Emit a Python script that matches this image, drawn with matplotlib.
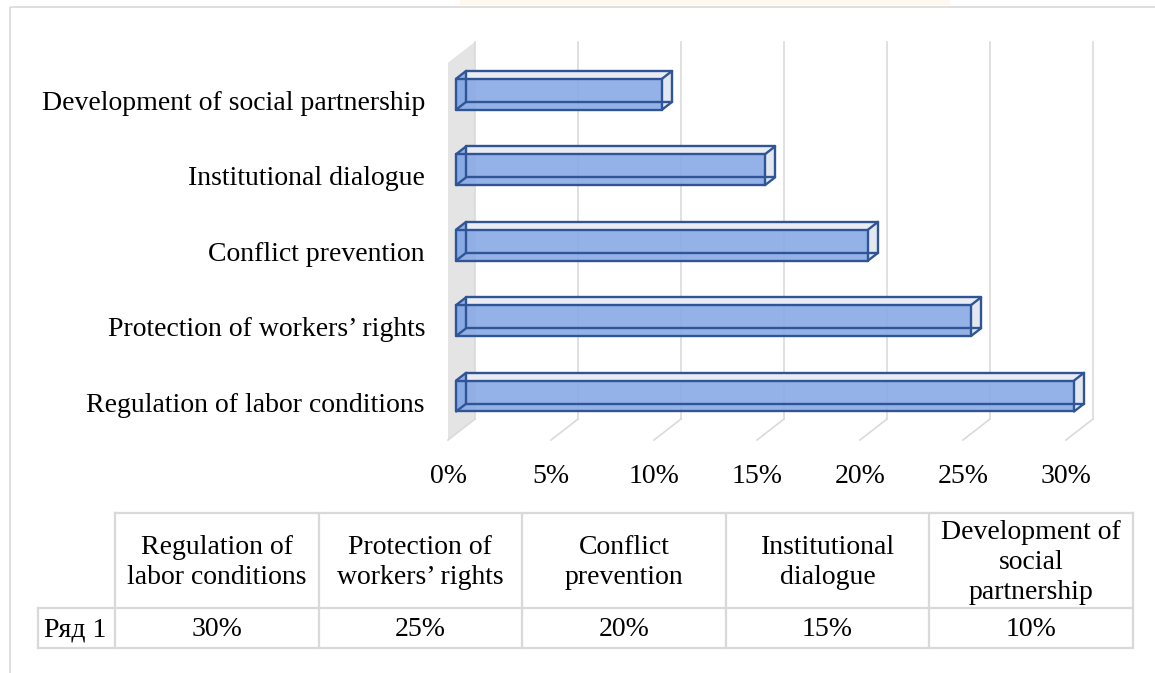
import numpy as np
import matplotlib.pyplot as plt
from matplotlib.patches import Polygon, Rectangle

plt.rcParams['font.family'] = ['Liberation Serif', 'DejaVu Serif']

categories = ['Regulation of labor conditions', "Protection of workers\u2019 rights",
              'Conflict prevention', 'Institutional dialogue', 'Development of social partnership']
values = [30, 25, 20, 15, 10]
xticks = [0, 5, 10, 15, 20, 25, 30]
table_heads = ['Regulation of\nlabor conditions', "Protection of\nworkers\u2019 rights",
               'Conflict\nprevention', 'Institutional\ndialogue', 'Development of\nsocial\npartnership']
series_name = 'Ряд 1'

# depth of the 3d box, in data units
DX = 1.311
DY = 0.278
d_front, d_back = 0.3, 0.67
half = 0.205

def proj(v, y, d):
    return (v + d * DX, y + d * DY)

fig = plt.figure(figsize=(11.55, 6.73), dpi=100)

page = fig.add_axes([0, 0, 1, 1])
page.set_xlim(0, 1155)
page.set_ylim(673, 0)
page.axis('off')
page.add_patch(Rectangle((460, -10), 490, 15, color='#FFF8EE', lw=0))
page.add_patch(Rectangle((9.5, 6.5), 1160, 680, fill=False, ec='#D9D9D9', lw=1.2))

ax = fig.add_axes([430/1155, 223/673, 680/1155, 420/673])
ax.set_xlim(-0.874, 32.14)
ax.set_ylim(-0.632, 4.934)
ax.patch.set_visible(False)
for s in ax.spines.values():
    s.set_visible(False)

# side wall
wall = [proj(0, -0.5, 0), proj(0, -0.5, 1), proj(0, 4.5, 1), proj(0, 4.5, 0)]
ax.add_patch(Polygon(wall, closed=True, fc='#E4E4E4', ec='none', zorder=1))

# gridlines on back wall and floor
for v in xticks:
    b0, b1 = proj(v, -0.5, 1), proj(v, 4.5, 1)
    ax.plot([b0[0], b1[0]], [b0[1], b1[1]], color='#DADADA', lw=1.2, zorder=1.5)
    f0 = proj(v, -0.5, 0)
    ax.plot([f0[0], b0[0]], [f0[1], b0[1]], color='#DADADA', lw=1.2, zorder=1.5)

edge = '#2F5597'
for i, val in enumerate(values):
    y0, y1 = i - half, i + half
    ftl, ftr = proj(0, y1, d_front), proj(val, y1, d_front)
    fbl, fbr = proj(0, y0, d_front), proj(val, y0, d_front)
    btl, btr = proj(0, y1, d_back), proj(val, y1, d_back)
    bbl, bbr = proj(0, y0, d_back), proj(val, y0, d_back)
    # top and end faces
    ax.add_patch(Polygon([ftl, ftr, btr, btl], fc='#E9ECF3', ec='none', zorder=2))
    ax.add_patch(Polygon([ftr, fbr, bbr, btr], fc='#E3E7EF', ec='none', zorder=2))
    # left end seen through the front
    ax.add_patch(Polygon([ftl, btl, bbl, fbl], fc='#88AAE6', alpha=0.9, ec='none', zorder=2))
    # front face
    ax.add_patch(Polygon([fbl, fbr, ftr, ftl], fc='#88AAE6', alpha=0.9, ec='none', zorder=3))
    # edges
    lines = [(fbl, fbr), (fbr, ftr), (ftr, ftl), (ftl, fbl),
             (ftl, btl), (btl, btr), (btr, ftr), (btr, bbr), (bbr, fbr),
             (btl, bbl), (bbl, bbr), (bbl, fbl)]
    for p, q in lines:
        ax.plot([p[0], q[0]], [p[1], q[1]], color=edge, lw=1.7, zorder=4,
                solid_capstyle='round')

ax.set_xticks(xticks, [f'{t}%' for t in xticks])
ax.set_yticks(range(len(categories)), categories)
ax.tick_params(axis='x', length=0, pad=10, labelsize=20)
ax.tick_params(axis='y', length=0, pad=3.6, labelsize=20)

# data table
left, c0, right = 38, 115, 1133
top, mid, bottom = 513, 608, 648
n = len(table_heads)
cols = np.linspace(c0, right, n + 1)
gc = '#D9D9D9'
lw = 1.6
page.plot([c0, right], [top, top], color=gc, lw=lw)
page.plot([left, right], [mid, mid], color=gc, lw=lw)
page.plot([left, right], [bottom, bottom], color=gc, lw=lw)
page.plot([left, left], [mid, bottom], color=gc, lw=lw)
for x in cols:
    page.plot([x, x], [top, bottom], color=gc, lw=lw)
for j in range(n):
    cx = (cols[j] + cols[j + 1]) / 2
    page.text(cx, (top + mid) / 2 + 2, table_heads[j], ha='center', va='center',
              fontsize=20, linespacing=1.28)
    page.text(cx, (mid + bottom) / 2 + 2, f'{values[j]}%', ha='center', va='center', fontsize=20)
page.text(44, (mid + bottom) / 2 + 2, series_name, ha='left', va='center', fontsize=20)

fig.savefig('out.png', dpi=100)
